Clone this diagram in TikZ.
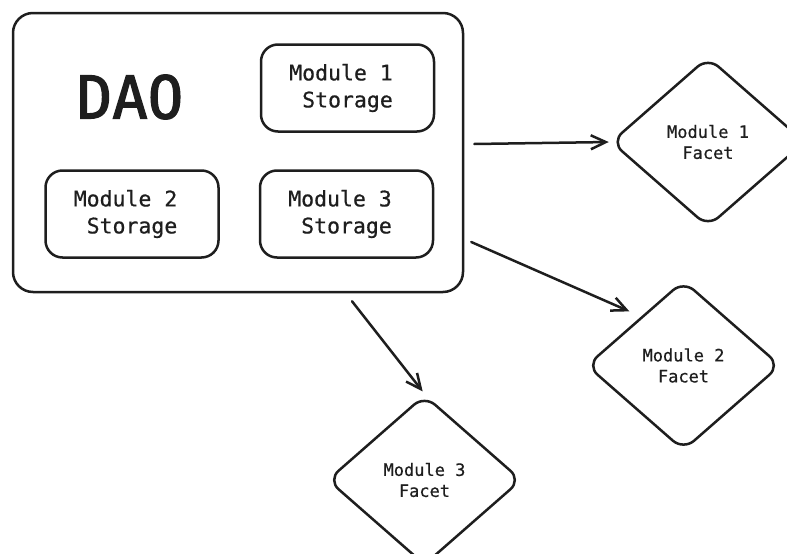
\documentclass[tikz,border=0pt]{standalone}
\usepackage{fontspec}
\setmonofont{DejaVu Sans Mono}
\newfontfamily\labelmono{DejaVu Sans Mono}[FakeBold=0.6]
\newfontfamily\titlemono{DejaVu Sans Mono}[FakeBold=2.2]
\usetikzlibrary{shapes.geometric,arrows.meta}
\definecolor{ink}{HTML}{1E1E1E}
\begin{document}
\begin{tikzpicture}[x=1pt,y=-1pt,
  every node/.style={text=ink,font=\labelmono},
  container/.style={draw=ink,line width=2.5pt,rounded corners=20pt,
    minimum width=450pt,minimum height=279pt,inner sep=0pt},
  storebox/.style={draw=ink,line width=2.5pt,rounded corners=17pt,
    minimum width=173pt,minimum height=87pt,inner sep=0pt,align=center,
    font=\labelmono\fontsize{21.5}{27}\selectfont},
  facet/.style={diamond,draw=ink,line width=2.5pt,rounded corners=14pt,
    minimum width=194pt,minimum height=170pt,inner sep=0pt,align=center,
    font=\labelmono\fontsize{17}{21}\selectfont},
  arr/.style={draw=ink,line width=2.5pt,line cap=round,
    -{Straight Barb[length=15pt,width=14pt]}}
]
\useasboundingbox (0,0) rectangle (787,554);

% DAO container with its module storages
\node[container] (dao) at (238,152.5) {};
\node[font=\titlemono\fontsize{59}{59}\selectfont] (daolabel) at (130,97) {DAO};
\node[storebox] (st1) at (347.5,88) {Module 1\hphantom{x}\\\hphantom{x}Storage\hphantom{x}};
\node[storebox] (st2) at (132,214) {Module 2\hphantom{x}\\\hphantom{x}Storage\hphantom{x}};
\node[storebox] (st3) at (346.5,214) {Module 3\hphantom{x}\\\hphantom{x}Storage\hphantom{x}};

% facets
\node[facet] (f1) at (708,142) {Module 1\\Facet};
\node[facet] (f2) at (683.5,365.5) {Module 2\\Facet};
\node[facet] (f3) at (424.5,480) {Module 3\\Facet};

% arrow ends
\coordinate (s1) at ([shift={(10,-8.5)}]dao.east);
\coordinate (s2) at ([shift={(7,89.5)}]dao.east);
\coordinate (s3) at ([shift={(114,8)}]dao.south);
\coordinate (e2) at ([shift={(-5,-11)}]f2.north west);

\draw[arr,shorten >=1pt] (s1) -- (f1.west);
\draw[arr] (s2) -- (e2);
\draw[arr,shorten >=3pt] (s3) -- (f3.north);
\end{tikzpicture}
\end{document}
